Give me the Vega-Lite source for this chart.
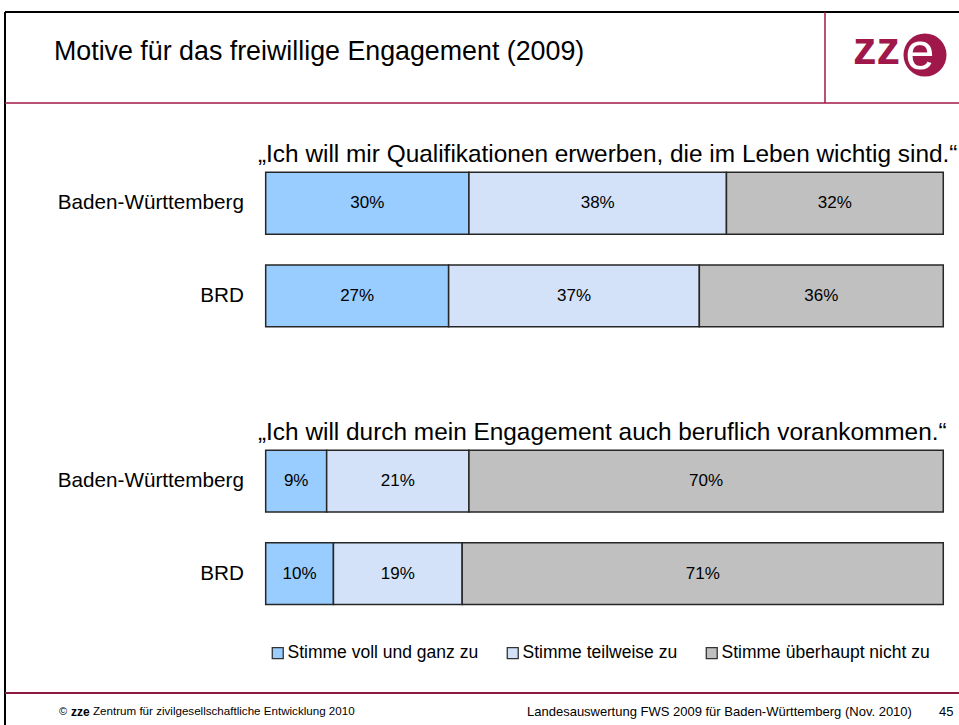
{
  "$schema": "https://vega.github.io/schema/vega-lite/v6.json",
  "width": 959,
  "height": 725,
  "autosize": {"type": "none"},
  "padding": 0,
  "background": "#ffffff",
  "config": {
    "view": {"stroke": null},
    "font": "Liberation Sans",
    "axis": {"disable": true}
  },
  "resolve": {"scale": {"x": "independent", "y": "independent"}},
  "layer": [
    {
      "data": {"values": [{}]},
      "layer": [
        {"mark": {"type": "rule", "stroke": "#000000", "strokeWidth": 2},
         "encoding": {"x": {"datum": 5, "type": "quantitative", "scale": {"domain": [0, 959], "nice": false, "zero": false}, "axis": null},
                      "x2": {"datum": 959},
                      "y": {"datum": 12, "type": "quantitative", "scale": {"domain": [0, 725], "nice": false, "zero": false, "reverse": true}, "axis": null}}},
        {"mark": {"type": "rule", "stroke": "#000000", "strokeWidth": 2},
         "encoding": {"x": {"datum": 5, "type": "quantitative", "scale": {"domain": [0, 959], "nice": false, "zero": false}, "axis": null},
                      "y": {"datum": 12, "type": "quantitative", "scale": {"domain": [0, 725], "nice": false, "zero": false, "reverse": true}, "axis": null},
                      "y2": {"datum": 725}}},
        {"mark": {"type": "rule", "stroke": "#A0184A", "strokeWidth": 1.5},
         "encoding": {"x": {"datum": 5, "type": "quantitative", "scale": {"domain": [0, 959], "nice": false, "zero": false}, "axis": null},
                      "x2": {"datum": 959},
                      "y": {"datum": 103, "type": "quantitative", "scale": {"domain": [0, 725], "nice": false, "zero": false, "reverse": true}, "axis": null}}},
        {"mark": {"type": "rule", "stroke": "#A0184A", "strokeWidth": 1.5},
         "encoding": {"x": {"datum": 825, "type": "quantitative", "scale": {"domain": [0, 959], "nice": false, "zero": false}, "axis": null},
                      "y": {"datum": 12, "type": "quantitative", "scale": {"domain": [0, 725], "nice": false, "zero": false, "reverse": true}, "axis": null},
                      "y2": {"datum": 103}}},
        {"mark": {"type": "rule", "stroke": "#8E1A44", "strokeWidth": 2},
         "encoding": {"x": {"datum": 5, "type": "quantitative", "scale": {"domain": [0, 959], "nice": false, "zero": false}, "axis": null},
                      "x2": {"datum": 959},
                      "y": {"datum": 693, "type": "quantitative", "scale": {"domain": [0, 725], "nice": false, "zero": false, "reverse": true}, "axis": null}}},
        {"mark": {"type": "text", "text": "Motive für das freiwillige Engagement (2009)", "align": "left", "baseline": "alphabetic", "fontSize": 26.8, "font": "Liberation Sans", "fill": "#000000"},
         "encoding": {"x": {"datum": 54, "type": "quantitative", "scale": {"domain": [0, 959], "nice": false, "zero": false}, "axis": null},
                      "y": {"datum": 60, "type": "quantitative", "scale": {"domain": [0, 725], "nice": false, "zero": false, "reverse": true}, "axis": null}}},
        {"mark": {"type": "text", "text": "zz", "align": "left", "baseline": "alphabetic", "fontSize": 47, "fontWeight": "bold", "font": "Liberation Sans", "fill": "#A0184A"},
         "encoding": {"x": {"datum": 853, "type": "quantitative", "scale": {"domain": [0, 959], "nice": false, "zero": false}, "axis": null},
                      "y": {"datum": 64, "type": "quantitative", "scale": {"domain": [0, 725], "nice": false, "zero": false, "reverse": true}, "axis": null}}},
        {"mark": {"type": "point", "shape": "circle", "filled": true, "size": 1850, "fill": "#A0184A", "opacity": 1, "strokeWidth": 0},
         "encoding": {"x": {"datum": 925, "type": "quantitative", "scale": {"domain": [0, 959], "nice": false, "zero": false}, "axis": null},
                      "y": {"datum": 55, "type": "quantitative", "scale": {"domain": [0, 725], "nice": false, "zero": false, "reverse": true}, "axis": null}}},
        {"mark": {"type": "text", "text": "e", "align": "center", "baseline": "alphabetic", "fontSize": 52, "font": "Liberation Sans", "fill": "#ffffff"},
         "encoding": {"x": {"datum": 920, "type": "quantitative", "scale": {"domain": [0, 959], "nice": false, "zero": false}, "axis": null},
                      "y": {"datum": 69, "type": "quantitative", "scale": {"domain": [0, 725], "nice": false, "zero": false, "reverse": true}, "axis": null}}},
        {"mark": {"type": "text", "text": "©", "align": "left", "baseline": "middle", "fontSize": 11, "font": "Liberation Sans", "fill": "#000000"},
         "encoding": {"x": {"datum": 59, "type": "quantitative", "scale": {"domain": [0, 959], "nice": false, "zero": false}, "axis": null},
                      "y": {"datum": 712, "type": "quantitative", "scale": {"domain": [0, 725], "nice": false, "zero": false, "reverse": true}, "axis": null}}},
        {"mark": {"type": "text", "text": "zze", "align": "left", "baseline": "middle", "fontSize": 12, "fontWeight": "bold", "font": "Liberation Sans", "fill": "#000000"},
         "encoding": {"x": {"datum": 71, "type": "quantitative", "scale": {"domain": [0, 959], "nice": false, "zero": false}, "axis": null},
                      "y": {"datum": 712, "type": "quantitative", "scale": {"domain": [0, 725], "nice": false, "zero": false, "reverse": true}, "axis": null}}},
        {"mark": {"type": "text", "text": "Zentrum für zivilgesellschaftliche Entwicklung 2010", "align": "left", "baseline": "middle", "fontSize": 11.6, "font": "Liberation Sans", "fill": "#000000"},
         "encoding": {"x": {"datum": 93, "type": "quantitative", "scale": {"domain": [0, 959], "nice": false, "zero": false}, "axis": null},
                      "y": {"datum": 712, "type": "quantitative", "scale": {"domain": [0, 725], "nice": false, "zero": false, "reverse": true}, "axis": null}}},
        {"mark": {"type": "text", "text": "Landesauswertung FWS 2009 für Baden-Württemberg (Nov. 2010)", "align": "left", "baseline": "middle", "fontSize": 13, "font": "Liberation Sans", "fill": "#000000"},
         "encoding": {"x": {"datum": 527, "type": "quantitative", "scale": {"domain": [0, 959], "nice": false, "zero": false}, "axis": null},
                      "y": {"datum": 712, "type": "quantitative", "scale": {"domain": [0, 725], "nice": false, "zero": false, "reverse": true}, "axis": null}}},
        {"mark": {"type": "text", "text": "45", "align": "left", "baseline": "middle", "fontSize": 13, "font": "Liberation Sans", "fill": "#000000"},
         "encoding": {"x": {"datum": 939, "type": "quantitative", "scale": {"domain": [0, 959], "nice": false, "zero": false}, "axis": null},
                      "y": {"datum": 712, "type": "quantitative", "scale": {"domain": [0, 725], "nice": false, "zero": false, "reverse": true}, "axis": null}}}
      ]
    },
    {
      "data": {"values": [
        {"row": "BW1", "region": "Baden-Württemberg", "question": "„Ich will mir Qualifikationen erwerben, die im Leben wichtig sind.“", "cat": "Stimme voll und ganz zu", "rank": 1, "pct": 30},
        {"row": "BW1", "region": "Baden-Württemberg", "question": "„Ich will mir Qualifikationen erwerben, die im Leben wichtig sind.“", "cat": "Stimme teilweise zu", "rank": 2, "pct": 38},
        {"row": "BW1", "region": "Baden-Württemberg", "question": "„Ich will mir Qualifikationen erwerben, die im Leben wichtig sind.“", "cat": "Stimme überhaupt nicht zu", "rank": 3, "pct": 32},
        {"row": "BRD1", "region": "BRD", "question": "„Ich will mir Qualifikationen erwerben, die im Leben wichtig sind.“", "cat": "Stimme voll und ganz zu", "rank": 1, "pct": 27},
        {"row": "BRD1", "region": "BRD", "question": "„Ich will mir Qualifikationen erwerben, die im Leben wichtig sind.“", "cat": "Stimme teilweise zu", "rank": 2, "pct": 37},
        {"row": "BRD1", "region": "BRD", "question": "„Ich will mir Qualifikationen erwerben, die im Leben wichtig sind.“", "cat": "Stimme überhaupt nicht zu", "rank": 3, "pct": 36},
        {"row": "BW2", "region": "Baden-Württemberg", "question": "„Ich will durch mein Engagement auch beruflich vorankommen.“", "cat": "Stimme voll und ganz zu", "rank": 1, "pct": 9},
        {"row": "BW2", "region": "Baden-Württemberg", "question": "„Ich will durch mein Engagement auch beruflich vorankommen.“", "cat": "Stimme teilweise zu", "rank": 2, "pct": 21},
        {"row": "BW2", "region": "Baden-Württemberg", "question": "„Ich will durch mein Engagement auch beruflich vorankommen.“", "cat": "Stimme überhaupt nicht zu", "rank": 3, "pct": 70},
        {"row": "BRD2", "region": "BRD", "question": "„Ich will durch mein Engagement auch beruflich vorankommen.“", "cat": "Stimme voll und ganz zu", "rank": 1, "pct": 10},
        {"row": "BRD2", "region": "BRD", "question": "„Ich will durch mein Engagement auch beruflich vorankommen.“", "cat": "Stimme teilweise zu", "rank": 2, "pct": 19},
        {"row": "BRD2", "region": "BRD", "question": "„Ich will durch mein Engagement auch beruflich vorankommen.“", "cat": "Stimme überhaupt nicht zu", "rank": 3, "pct": 71}
      ]},
      "transform": [
        {"stack": "pct", "groupby": ["row"], "sort": [{"field": "rank", "order": "ascending"}], "as": ["x0", "x1"]},
        {"calculate": "(datum.x0 + datum.x1) / 2", "as": "mid"},
        {"calculate": "datum.pct + '%'", "as": "label"}
      ],
      "layer": [
        {
          "mark": {"type": "bar", "stroke": "#262626", "strokeWidth": 1.5},
          "encoding": {
            "x": {"field": "x0", "type": "quantitative", "scale": {"domain": [-39.21, 102.32], "nice": false, "zero": false}, "axis": null},
            "x2": {"field": "x1"},
            "y": {"field": "row", "type": "nominal", "scale": {"type": "band", "domain": ["pad1", "BW1", "BRD1", "gap", "BW2", "BRD2", "pad2"], "paddingInner": 0.3326, "paddingOuter": 0.581, "align": 0.741, "round": false}, "axis": null},
            "color": {
              "field": "cat", "type": "nominal",
              "scale": {"domain": ["Stimme voll und ganz zu", "Stimme teilweise zu", "Stimme überhaupt nicht zu"], "range": ["#99CCFF", "#D3E2F9", "#C0C0C0"]},
              "legend": {
                "orient": "none", "legendX": 269, "legendY": 644, "direction": "horizontal", "title": null,
                "symbolType": "square", "symbolSize": 120, "symbolStrokeWidth": 1.3, "symbolStrokeColor": "#333333", "symbolOpacity": 1,
                "labelFontSize": 17.5, "labelFont": "Liberation Sans", "labelColor": "#000000", "labelOffset": 1, "labelLimit": 400,
                "columnPadding": 25, "padding": 0
              }
            }
          }
        },
        {
          "mark": {"type": "text", "fontSize": 17, "font": "Liberation Sans", "fill": "#000000", "align": "center", "baseline": "middle"},
          "encoding": {
            "x": {"field": "mid", "type": "quantitative", "scale": {"domain": [-39.21, 102.32], "nice": false, "zero": false}, "axis": null},
            "y": {"field": "row", "type": "nominal", "scale": {"type": "band", "domain": ["pad1", "BW1", "BRD1", "gap", "BW2", "BRD2", "pad2"], "paddingInner": 0.3326, "paddingOuter": 0.581, "align": 0.741, "round": false}, "axis": null},
            "text": {"field": "label"}
          }
        },
        {
          "transform": [{"filter": "datum.rank == 1"}],
          "mark": {"type": "text", "fontSize": 20.7, "font": "Liberation Sans", "fill": "#000000", "align": "right", "baseline": "middle"},
          "encoding": {
            "x": {"datum": -3.2, "type": "quantitative", "scale": {"domain": [-39.21, 102.32], "nice": false, "zero": false}, "axis": null},
            "y": {"field": "row", "type": "nominal", "scale": {"type": "band", "domain": ["pad1", "BW1", "BRD1", "gap", "BW2", "BRD2", "pad2"], "paddingInner": 0.3326, "paddingOuter": 0.581, "align": 0.741, "round": false}, "axis": null},
            "text": {"field": "region"}
          }
        },
        {
          "transform": [{"filter": "datum.rank == 1 && datum.region == 'Baden-Württemberg'"}],
          "mark": {"type": "text", "fontSize": 24.4, "font": "Liberation Sans", "fill": "#000000", "align": "left", "baseline": "middle", "dy": -48},
          "encoding": {
            "x": {"datum": -1.14, "type": "quantitative", "scale": {"domain": [-39.21, 102.32], "nice": false, "zero": false}, "axis": null},
            "y": {"field": "row", "type": "nominal", "scale": {"type": "band", "domain": ["pad1", "BW1", "BRD1", "gap", "BW2", "BRD2", "pad2"], "paddingInner": 0.3326, "paddingOuter": 0.581, "align": 0.741, "round": false}, "axis": null},
            "text": {"field": "question"}
          }
        }
      ]
    }
  ]
}
